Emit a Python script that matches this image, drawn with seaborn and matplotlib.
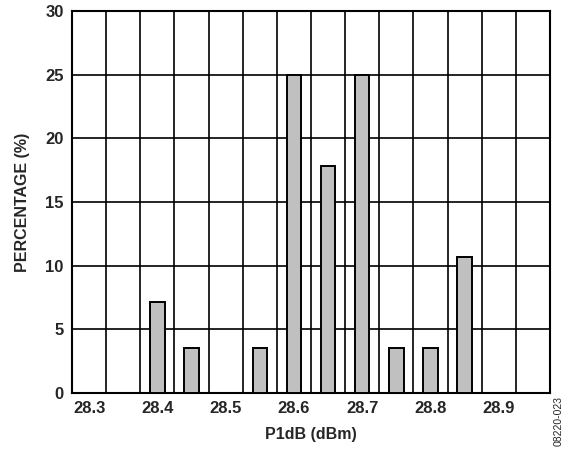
import numpy as np
import pandas as pd
import matplotlib
matplotlib.use('Agg')
import matplotlib.pyplot as plt
import seaborn as sns

# Data (28 units -> steps of 3.57 %)
p1db = [28.40, 28.45, 28.55, 28.60, 28.65, 28.70, 28.75, 28.80, 28.85]
percent = [7.14, 3.57, 3.57, 25.0, 17.86, 25.0, 3.57, 3.57, 10.71]
x_ticks = [28.3, 28.4, 28.5, 28.6, 28.7, 28.8, 28.9]
y_ticks = [0, 5, 10, 15, 20, 25, 30]

sns.set_style('white')
plt.rcParams['font.family'] = ['Liberation Sans', 'DejaVu Sans']

df = pd.DataFrame({'p1db': p1db, 'percent': percent})

fig = plt.figure(figsize=(5.68, 4.5), dpi=100)
ax = fig.add_axes([0.1268, 0.1267, 0.8415, 0.849])

# grid: cell boundaries every 0.05 dBm, offset so bins are centred
grid_x = np.arange(28.325, 28.95, 0.05)
for gx in grid_x:
    ax.axvline(gx, color='black', lw=1.2, zorder=1)
for gy in y_ticks[1:-1]:
    ax.axhline(gy, color='black', lw=1.2, zorder=1)

sns.barplot(data=df, x='p1db', y='percent', native_scale=True, width=0.42,
            color='#c0c0c0', edgecolor='black', linewidth=1.4, saturation=1,
            ax=ax, zorder=3)

ax.set_xlim(28.275, 28.975)
ax.set_ylim(0, 30)
ax.set_xticks(x_ticks)
ax.set_xticklabels([f'{v:.1f}' for v in x_ticks])
ax.set_yticks(y_ticks)
ax.tick_params(length=0, labelsize=12, pad=6)
for lbl in ax.get_xticklabels() + ax.get_yticklabels():
    lbl.set_fontweight('bold')

for s in ax.spines.values():
    s.set_visible(True)
    s.set_color('black')
    s.set_linewidth(1.5)

ax.set_xlabel('P1dB (dBm)', fontsize=11.5, fontweight='bold', labelpad=8)
ax.set_ylabel('PERCENTAGE (%)', fontsize=11.5, fontweight='bold', labelpad=11)

fig.text(0.993, 0.01, '08220-023', rotation=90, fontsize=7.5,
         ha='right', va='bottom')

fig.savefig('out.png', dpi=100)
